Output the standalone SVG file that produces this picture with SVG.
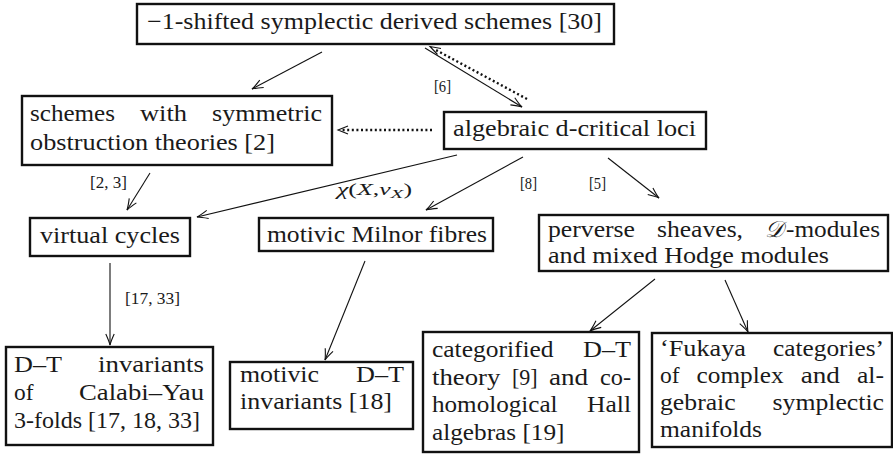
<svg xmlns="http://www.w3.org/2000/svg" width="893" height="462" viewBox="0 0 893 462">
<style>
.box{fill:#fff;stroke:#111;stroke-width:2.4}
.t{font-family:"Liberation Serif","DejaVu Serif",serif;font-size:23px;fill:#1a1a1a}
.lb{font-family:"Liberation Serif","DejaVu Serif",serif;font-size:16px;fill:#1a1a1a}
.c{fill:none;stroke:#111;stroke-width:1.1}
.d{fill:none;stroke:#111;stroke-width:2.4;stroke-dasharray:2 2.6}
.h{fill:none;stroke:#111;stroke-width:1.1}
</style>
<defs>
<marker id="ah" markerUnits="userSpaceOnUse" markerWidth="14" markerHeight="12" refX="0" refY="0" viewBox="-12 -6 14 12" orient="auto" overflow="visible">
<path d="M-11,-4.2 Q-4,-1 0,0 Q-4,1 -11,4.2" fill="none" stroke="#111" stroke-width="1.1"/>
</marker>
</defs>
<rect width="893" height="462" fill="#fff"/>
<g id="connectors">
<line class="c" x1="322" y1="52" x2="252" y2="89" marker-end="url(#ah)"/>
<line class="c" x1="425" y1="48" x2="522" y2="107" marker-end="url(#ah)"/>
<line class="d" x1="527" y1="99" x2="434" y2="49"/>
<path class="h" d="M441,48.5 L430,46.5 L437.5,54.5"/>
<line class="d" x1="432" y1="130" x2="342" y2="130"/>
<path class="h" d="M348,126 L338,130 L348,134"/>
<line class="c" x1="457" y1="155" x2="197" y2="217" marker-end="url(#ah)"/>
<line class="c" x1="150" y1="173" x2="127" y2="210" marker-end="url(#ah)"/>
<line class="c" x1="523" y1="157" x2="426" y2="210" marker-end="url(#ah)"/>
<line class="c" x1="608" y1="158" x2="659" y2="198" marker-end="url(#ah)"/>
<line class="c" x1="110" y1="263" x2="110" y2="345" stroke-width="2" marker-end="url(#ah)"/>
<line class="c" x1="365" y1="261" x2="325" y2="360" marker-end="url(#ah)"/>
<line class="c" x1="655" y1="279" x2="590" y2="331" marker-end="url(#ah)"/>
<line class="c" x1="725" y1="280" x2="748" y2="332" marker-end="url(#ah)"/>
<text class="lb" x="434" y="92" textLength="17" lengthAdjust="spacingAndGlyphs">[6]</text>
<text class="lb" x="90" y="188" textLength="37" lengthAdjust="spacingAndGlyphs">[2, 3]</text>
<text class="lb" x="520" y="189" textLength="17" lengthAdjust="spacingAndGlyphs">[8]</text>
<text class="lb" x="589" y="189" textLength="17" lengthAdjust="spacingAndGlyphs">[5]</text>
<text class="lb" x="125" y="304" textLength="55" lengthAdjust="spacingAndGlyphs">[17, 33]</text>
<text class="lb" x="337" y="195" font-size="19" textLength="75" lengthAdjust="spacingAndGlyphs"><tspan font-style="italic">χ</tspan>(<tspan font-style="italic">X</tspan>,<tspan font-style="italic">ν</tspan><tspan font-style="italic" font-size="13" dy="3">X</tspan><tspan dy="-3">)</tspan></text>
</g>
<g id="n_top">
<rect class="box" x="137" y="4" width="477" height="40"/>
<text class="t" x="147" y="29" textLength="455" lengthAdjust="spacingAndGlyphs">−1-shifted symplectic derived schemes [30]</text>
</g>
<g id="n_schemes">
<rect class="box" x="22" y="96" width="310" height="69"/>
<text class="t" x="30" y="121" textLength="85" lengthAdjust="spacingAndGlyphs">schemes</text>
<text class="t" x="140" y="121" textLength="47" lengthAdjust="spacingAndGlyphs">with</text>
<text class="t" x="212" y="121" textLength="110" lengthAdjust="spacingAndGlyphs">symmetric</text>
<text class="t" x="30" y="150" textLength="245" lengthAdjust="spacingAndGlyphs">obstruction theories [2]</text>
</g>
<g id="n_algebraic">
<rect class="box" x="444" y="112" width="262" height="37"/>
<text class="t" x="453" y="136" textLength="243" lengthAdjust="spacingAndGlyphs">algebraic d-critical loci</text>
</g>
<g id="n_virtual">
<rect class="box" x="30" y="218" width="160" height="38"/>
<text class="t" x="40" y="243" textLength="140" lengthAdjust="spacingAndGlyphs">virtual cycles</text>
</g>
<g id="n_milnor">
<rect class="box" x="259" y="218" width="234" height="33"/>
<text class="t" x="267" y="242" textLength="220" lengthAdjust="spacingAndGlyphs">motivic Milnor fibres</text>
</g>
<g id="n_perverse">
<rect class="box" x="539" y="215" width="349" height="56"/>
<text class="t" x="548" y="237" textLength="87" lengthAdjust="spacingAndGlyphs">perverse</text>
<text class="t" x="657" y="237" textLength="86" lengthAdjust="spacingAndGlyphs">sheaves,</text>
<text class="t" x="765" y="237" font-style="italic">𝒟</text>
<text class="t" x="786" y="237" textLength="94" lengthAdjust="spacingAndGlyphs">-modules</text>
<text class="t" x="548" y="263" textLength="281" lengthAdjust="spacingAndGlyphs">and mixed Hodge modules</text>
</g>
<g id="n_dt">
<rect class="box" x="6" y="347" width="207" height="98"/>
<text class="t" x="14" y="372" textLength="48" lengthAdjust="spacingAndGlyphs">D–T</text>
<text class="t" x="98" y="372" textLength="106" lengthAdjust="spacingAndGlyphs">invariants</text>
<text class="t" x="14" y="400" textLength="19.5" lengthAdjust="spacingAndGlyphs">of</text>
<text class="t" x="79" y="400" textLength="125" lengthAdjust="spacingAndGlyphs">Calabi–Yau</text>
<text class="t" x="14" y="428" textLength="186" lengthAdjust="spacingAndGlyphs">3-folds [17, 18, 33]</text>
</g>
<g id="n_motivicdt">
<rect class="box" x="230" y="362" width="183" height="67"/>
<text class="t" x="240" y="382" textLength="79" lengthAdjust="spacingAndGlyphs">motivic</text>
<text class="t" x="356" y="382" textLength="48" lengthAdjust="spacingAndGlyphs">D–T</text>
<text class="t" x="240" y="409" textLength="152" lengthAdjust="spacingAndGlyphs">invariants [18]</text>
</g>
<g id="n_categorified">
<rect class="box" x="423" y="332" width="216" height="120"/>
<text class="t" x="432" y="357" textLength="121.6" lengthAdjust="spacingAndGlyphs">categorified</text>
<text class="t" x="583" y="357" textLength="48" lengthAdjust="spacingAndGlyphs">D–T</text>
<text class="t" x="432" y="385" textLength="68.3" lengthAdjust="spacingAndGlyphs">theory</text>
<text class="t" x="512" y="385" textLength="25.7" lengthAdjust="spacingAndGlyphs">[9]</text>
<text class="t" x="549" y="385" textLength="39.2" lengthAdjust="spacingAndGlyphs">and</text>
<text class="t" x="600" y="385" textLength="31" lengthAdjust="spacingAndGlyphs">co-</text>
<text class="t" x="432" y="412" textLength="125.6" lengthAdjust="spacingAndGlyphs">homological</text>
<text class="t" x="587" y="412" textLength="44" lengthAdjust="spacingAndGlyphs">Hall</text>
<text class="t" x="432" y="440" textLength="132.5" lengthAdjust="spacingAndGlyphs">algebras [19]</text>
</g>
<g id="n_fukaya">
<rect class="box" x="652" y="333" width="240" height="114"/>
<text class="t" x="660" y="356" textLength="86" lengthAdjust="spacingAndGlyphs">‘Fukaya</text>
<text class="t" x="773" y="356" textLength="111" lengthAdjust="spacingAndGlyphs">categories’</text>
<text class="t" x="660" y="383" textLength="19.6" lengthAdjust="spacingAndGlyphs">of</text>
<text class="t" x="696.6" y="383" textLength="87" lengthAdjust="spacingAndGlyphs">complex</text>
<text class="t" x="800.7" y="383" textLength="39.2" lengthAdjust="spacingAndGlyphs">and</text>
<text class="t" x="857" y="383" textLength="27" lengthAdjust="spacingAndGlyphs">al-</text>
<text class="t" x="660" y="410" textLength="75.7" lengthAdjust="spacingAndGlyphs">gebraic</text>
<text class="t" x="772.5" y="410" textLength="111.5" lengthAdjust="spacingAndGlyphs">symplectic</text>
<text class="t" x="660" y="437" textLength="102" lengthAdjust="spacingAndGlyphs">manifolds</text>
</g>
</svg>
